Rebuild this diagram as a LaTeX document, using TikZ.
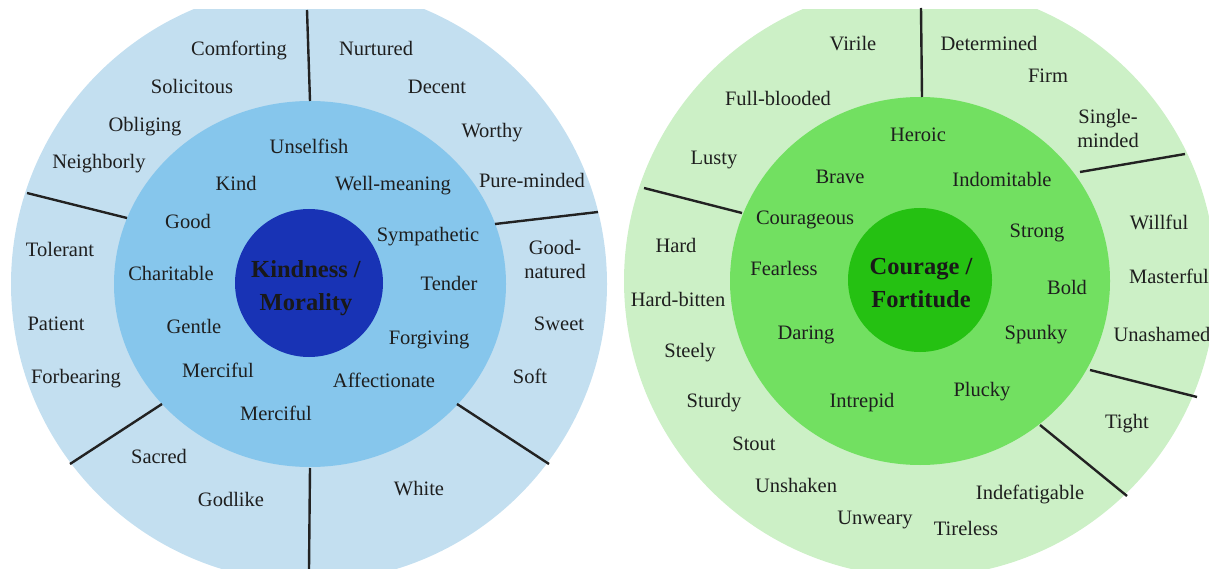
\documentclass[tikz,border=0pt]{standalone}
\usepackage{fontspec}
\setmainfont{Liberation Serif}
\definecolor{bOuter}{HTML}{C3DFF0}
\definecolor{bMid}{HTML}{86C6EC}
\definecolor{bIn}{HTML}{1833B5}
\definecolor{gOuter}{HTML}{CCF0C6}
\definecolor{gMid}{HTML}{72E061}
\definecolor{gIn}{HTML}{25C112}
\definecolor{txt}{HTML}{1E1E1E}
\definecolor{sep}{HTML}{222222}
\tikzset{
  lbl2/.style={font=\fontsize{20.5}{24}\selectfont, text=txt, inner sep=0pt, align=center},
  lbl/.style={lbl2, text height=14pt, text depth=0pt},
  ctr/.style={font=\fontsize{24.5}{33}\selectfont\bfseries, text=black!90, inner sep=0pt, align=center},
  divider/.style={draw=sep, line width=2.4pt}
}
\begin{document}
\begin{tikzpicture}[x=1pt,y=-1pt]
\useasboundingbox (0,0) rectangle (1209,569);
% ---------- wheels ----------
\begin{scope}
  \clip (0,10) rectangle (1209,569);
  \fill[bOuter] (309,284) circle (298);
  \fill[gOuter] (920,281) circle (296);
\end{scope}
\fill[bMid] (310,284) ellipse [x radius=196, y radius=183];
\fill[bIn] (309,283) circle (74);
\fill[gMid] (920,281) ellipse [x radius=190, y radius=184];
\fill[gIn] (920,280) circle (72);
% dividers left
\draw[divider] (307,10) -- (310,101);
\draw[divider] (27,193) -- (127,218);
\draw[divider] (495,224) -- (598,212);
\draw[divider] (162,404) -- (70,464);
\draw[divider] (457,404) -- (549,464);
\draw[divider] (310,468) -- (309,569);
% dividers right
\draw[divider] (921,8) -- (922,97);
\draw[divider] (644,188) -- (742,213);
\draw[divider] (1080,172) -- (1185,154);
\draw[divider] (1090,370) -- (1197,397);
\draw[divider] (1040,425) -- (1127,496);
% left centre
\node[ctr] (kind) at (306,288) {Kindness /\\Morality};
% left outer labels
\node[lbl] (l1) at (239,49) {Comforting};
\node[lbl] (l2) at (376,49) {Nurtured};
\node[lbl] (l3) at (192,87) {Solicitous};
\node[lbl] (l4) at (437,87) {Decent};
\node[lbl] (l5) at (145,125) {Obliging};
\node[lbl] (l6) at (492,131) {Worthy};
\node[lbl] (l7) at (99,162) {Neighborly};
\node[lbl] (l8) at (532,181) {Pure-minded};
\node[lbl] (l9) at (60,250) {Tolerant};
\node[lbl2] (l10) at (555,259) {Good-\\natured};
\node[lbl] (l11) at (56,323) {Patient};
\node[lbl] (l12) at (559,323) {Sweet};
\node[lbl] (l13) at (76,376) {Forbearing};
\node[lbl] (l14) at (530,376) {Soft};
\node[lbl] (l15) at (159,456) {Sacred};
\node[lbl] (l16) at (231,499) {Godlike};
\node[lbl] (l17) at (419,488) {White};
% left middle labels
\node[lbl] (m1) at (309,147) {Unselfish};
\node[lbl] (m2) at (236,184) {Kind};
\node[lbl] (m3) at (393,184) {Well-meaning};
\node[lbl] (m4) at (188,222) {Good};
\node[lbl] (m5) at (428,234) {Sympathetic};
\node[lbl] (m6) at (171,273) {Charitable};
\node[lbl] (m7) at (449,283) {Tender};
\node[lbl] (m8) at (194,326) {Gentle};
\node[lbl] (m9) at (429,337) {Forgiving};
\node[lbl] (m10) at (218,370) {Merciful};
\node[lbl] (m11) at (384,380) {Affectionate};
\node[lbl] (m12) at (276,413) {Merciful};
% right centre
\node[ctr] (cour) at (921,283) {Courage /\\Fortitude};
% right outer labels
\node[lbl] (r1) at (853,44) {Virile};
\node[lbl] (r2) at (989,44) {Determined};
\node[lbl] (r3) at (1048,76) {Firm};
\node[lbl] (r4) at (778,99) {Full-blooded};
\node[lbl2] (r5) at (1108,128) {Single-\\minded};
\node[lbl] (r6) at (714,158) {Lusty};
\node[lbl] (r7) at (1159,223) {Willful};
\node[lbl] (r8) at (676,246) {Hard};
\node[lbl] (r9) at (1169,276) {Masterful};
\node[lbl] (r10) at (678,299) {Hard-bitten};
\node[lbl] (r11) at (1162,334) {Unashamed};
\node[lbl] (r12) at (690,350) {Steely};
\node[lbl] (r13) at (714,400) {Sturdy};
\node[lbl] (r14) at (1127,421) {Tight};
\node[lbl] (r15) at (754,443) {Stout};
\node[lbl] (r16) at (796,485) {Unshaken};
\node[lbl] (r17) at (1030,492) {Indefatigable};
\node[lbl] (r18) at (875,517) {Unweary};
\node[lbl] (r19) at (966,528) {Tireless};
% right middle labels
\node[lbl] (n1) at (918,135) {Heroic};
\node[lbl] (n2) at (840,177) {Brave};
\node[lbl] (n3) at (1002,180) {Indomitable};
\node[lbl] (n4) at (805,218) {Courageous};
\node[lbl] (n5) at (1037,230) {Strong};
\node[lbl] (n6) at (784,269) {Fearless};
\node[lbl] (n7) at (1067,287) {Bold};
\node[lbl] (n8) at (806,332) {Daring};
\node[lbl] (n9) at (1036,332) {Spunky};
\node[lbl] (n10) at (982,389) {Plucky};
\node[lbl] (n11) at (862,400) {Intrepid};
\end{tikzpicture}
\end{document}
